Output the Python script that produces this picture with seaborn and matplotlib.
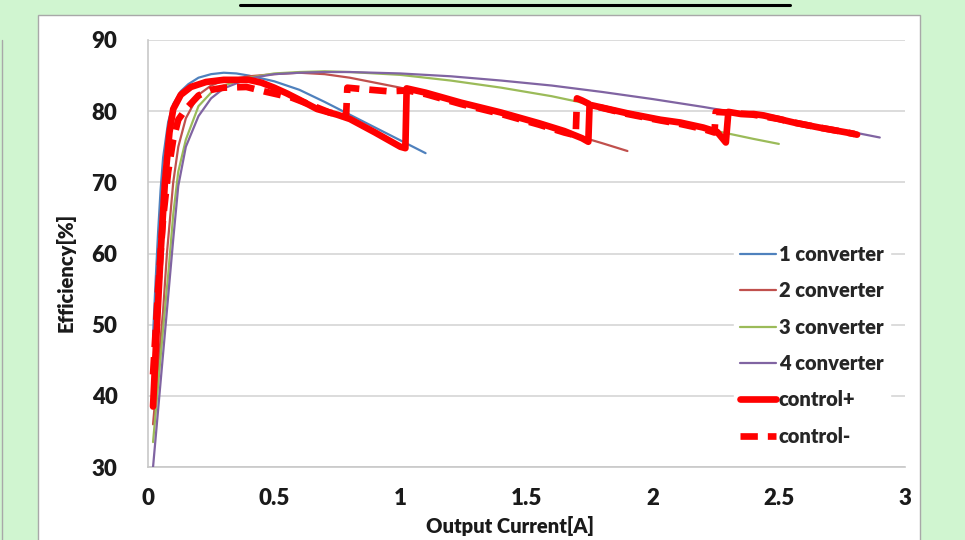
import numpy as np
import pandas as pd
import seaborn as sns
import matplotlib
matplotlib.use("Agg")
import matplotlib.pyplot as plt
from matplotlib.patches import Rectangle
from matplotlib.lines import Line2D

# ---------------- data ----------------
c1_x = [0.02, 0.03, 0.04, 0.05, 0.06, 0.08, 0.10, 0.13, 0.16, 0.20, 0.25, 0.30, 0.35, 0.40, 0.50, 0.60, 0.70, 0.80, 0.90, 1.00, 1.10]
c1_y = [48.5, 56, 63, 69, 73.5, 78.5, 81, 82.8, 83.8, 84.7, 85.2, 85.4, 85.3, 85.0, 84.2, 83.0, 81.3, 79.5, 77.7, 75.9, 74.1]

c2_x = [0.02, 0.04, 0.06, 0.075, 0.10, 0.12, 0.15, 0.20, 0.25, 0.30, 0.40, 0.50, 0.60, 0.70, 0.80, 1.00, 1.20, 1.40, 1.60, 1.80, 1.90]
c2_y = [36, 44, 52, 60, 70, 75, 79, 82.3, 83.6, 84.3, 84.9, 85.2, 85.4, 85.2, 84.7, 83.3, 81.5, 79.6, 77.6, 75.5, 74.4]

c3_x = [0.02, 0.04, 0.06, 0.08, 0.10, 0.12, 0.15, 0.20, 0.25, 0.30, 0.40, 0.50, 0.60, 0.70, 0.80, 0.90, 1.00, 1.20, 1.40, 1.60, 1.80, 2.00, 2.20, 2.40, 2.50]
c3_y = [33.5, 41.5, 49.5, 57, 65.5, 71.5, 76, 80.7, 82.6, 83.6, 84.7, 85.3, 85.5, 85.6, 85.5, 85.3, 85.1, 84.3, 83.3, 82.1, 80.6, 79.1, 77.6, 76.1, 75.4]

c4_x = [0.02, 0.04, 0.06, 0.08, 0.10, 0.12, 0.15, 0.20, 0.25, 0.30, 0.40, 0.50, 0.60, 0.70, 0.80, 1.00, 1.20, 1.40, 1.60, 1.80, 2.00, 2.20, 2.40, 2.60, 2.80, 2.90]
c4_y = [30, 38, 46, 54, 62, 69.5, 75, 79.3, 81.8, 83.2, 84.6, 85.2, 85.4, 85.5, 85.5, 85.3, 84.9, 84.3, 83.6, 82.7, 81.7, 80.6, 79.4, 78.2, 77.0, 76.3]

cp_x = [0.02, 0.03, 0.05, 0.067, 0.085, 0.10, 0.13, 0.17, 0.23, 0.30, 0.40, 0.45, 0.50, 0.55, 0.60, 0.67, 0.75, 0.80, 0.90, 1.00, 1.02,
        1.025, 1.05, 1.10, 1.24, 1.40, 1.55, 1.65, 1.72, 1.745,
        1.75, 1.80, 1.90, 2.03, 2.11, 2.20, 2.255, 2.29,
        2.30, 2.35, 2.40, 2.44, 2.50, 2.56, 2.66, 2.77, 2.81]
cp_y = [38.5, 46, 60, 70, 77, 80.3, 82.3, 83.4, 84.1, 84.4, 84.4, 84.0, 83.3, 82.5, 81.6, 80.3, 79.5, 78.9, 77.0, 75.0, 74.8,
        83.2, 83.0, 82.6, 81.2, 79.8, 78.3, 77.2, 76.2, 75.7,
        80.9, 80.5, 79.7, 78.8, 78.4, 77.7, 77.1, 75.6,
        79.9, 79.6, 79.6, 79.4, 78.9, 78.4, 77.7, 77.0, 76.7]

cm_x = [0.02, 0.04, 0.06, 0.08, 0.10, 0.12, 0.15, 0.20, 0.25, 0.30, 0.39, 0.47, 0.57, 0.65, 0.72, 0.785,
        0.79, 0.85, 0.95, 1.03, 1.10, 1.24, 1.40, 1.55, 1.65, 1.695,
        1.70, 1.72, 1.76, 1.90, 2.03, 2.11, 2.20, 2.245,
        2.25, 2.30, 2.40, 2.50, 2.56, 2.66, 2.77, 2.80]
cm_y = [43, 55, 65, 71.5, 76, 78.8, 80.3, 82.2, 83.0, 83.3, 83.4, 82.7, 81.9, 80.8, 79.8, 79.3,
        83.3, 83.1, 82.8, 82.9, 82.4, 81.0, 79.6, 78.1, 77.0, 76.6,
        81.8, 81.5, 80.8, 79.6, 78.7, 78.2, 77.5, 77.0,
        79.9, 79.8, 79.5, 78.9, 78.4, 77.7, 77.0, 76.8]

series_names = ["1 converter", "2 converter", "3 converter", "4 converter", "control+", "control-"]
y_ticks = [30, 40, 50, 60, 70, 80, 90]
x_ticks = [0, 0.5, 1, 1.5, 2, 2.5, 3]
x_tick_labels = ["0", "0.5", "1", "1.5", "2", "2.5", "3"]

# ---------------- styling ----------------
sns.set_style("white")
plt.rcParams["font.family"] = ["Lato", "DejaVu Sans"]
plt.rcParams["font.weight"] = "bold"

W, H = 965, 540
fig = plt.figure(figsize=(W / 100, H / 100), dpi=100)
fig.patch.set_facecolor("#D0F5D0")

# white panel and left neighbouring panel edge
fig.add_artist(Rectangle((38 / W, -0.01), (920 - 38) / W, 1 - 15 / H + 0.01,
                         transform=fig.transFigure, facecolor="white",
                         edgecolor="#A8A8A8", lw=1.0, zorder=0))
fig.add_artist(Line2D([2 / W, 2 / W], [0, 1 - 40 / H], transform=fig.transFigure,
                      color="#A8A8A8", lw=1.0))
# title underline (title itself is cut off above)
fig.add_artist(Line2D([240 / W, 790 / W], [1 - 5 / H, 1 - 5 / H], transform=fig.transFigure,
                      color="black", lw=2.2))

ax = fig.add_axes([148 / W, 1 - 467 / H, (905 - 148) / W, (467 - 40) / H])
ax.set_facecolor("white")

colors = ["#4F81BD", "#C0504D", "#9BBB59", "#8064A2", "#FF0000", "#FF0000"]
xs = [c1_x, c2_x, c3_x, c4_x, cp_x, cm_x]
ys = [c1_y, c2_y, c3_y, c4_y, cp_y, cm_y]

for i, (name, x, y, c) in enumerate(zip(series_names, xs, ys, colors)):
    df = pd.DataFrame({"x": x, "y": y})
    kw = dict(color=c, sort=False, estimator=None, label=name, zorder=3 + i)
    if i < 4:
        sns.lineplot(data=df, x="x", y="y", ax=ax, lw=1.6, **kw)
    elif i == 4:
        sns.lineplot(data=df, x="x", y="y", ax=ax, lw=4.8, solid_joinstyle="round",
                     solid_capstyle="round", **kw)
    else:
        sns.lineplot(data=df, x="x", y="y", ax=ax, lw=4.8, linestyle=(0, (2.6, 1.5)), **kw)

ax.set_xlim(0, 3)
ax.set_ylim(30, 90)
ax.set_yticks(y_ticks)
ax.set_xticks(x_ticks)
ax.set_xticklabels(x_tick_labels)
ax.yaxis.grid(True, color="#D9D9D9", lw=1.3, zorder=0)
ax.xaxis.grid(False)
ax.set_axisbelow(True)
for s in ["top", "right"]:
    ax.spines[s].set_visible(False)
ax.spines["left"].set_color("#C8C8C8")
ax.spines["bottom"].set_color("#C8C8C8")
ax.spines["left"].set_linewidth(1.2)
ax.spines["bottom"].set_linewidth(1.2)
ax.tick_params(axis="y", length=8, width=1.2, color="#D0D0D0", labelsize=16, pad=14, labelcolor="#1a1a1a")
ax.tick_params(axis="x", length=5, width=1.2, color="#D0D0D0", labelsize=16, pad=10, labelcolor="#1a1a1a")
for lab in ax.get_xticklabels() + ax.get_yticklabels():
    lab.set_fontweight("heavy")

ax.set_xlabel("Output Current[A]", fontsize=14.5, fontweight="heavy", color="#1a1a1a")
ax.set_ylabel("Efficiency[%]", fontsize=14.5, fontweight="heavy", color="#1a1a1a")
ax.xaxis.set_label_coords((510 - 148) / 757, -(526 - 467) / 427)
ax.yaxis.set_label_coords((66 - 148) / 757, (467 - 272) / 427)
ax.xaxis.label.set_va("center")
ax.yaxis.label.set_va("center")

leg = ax.legend(loc="upper left", bbox_to_anchor=(724 / W, 1 - 229 / H),
                bbox_transform=fig.transFigure, frameon=True, fancybox=False,
                facecolor="white", edgecolor="white", framealpha=1.0,
                fontsize=14.5, handlelength=1.8, handletextpad=0.12,
                labelspacing=0.86, borderpad=0.3)
for t in leg.get_texts():
    t.set_fontweight("heavy")
    t.set_color("#262626")
leg.set_zorder(20)

fig.savefig("out.png", dpi=100, facecolor=fig.get_facecolor())
